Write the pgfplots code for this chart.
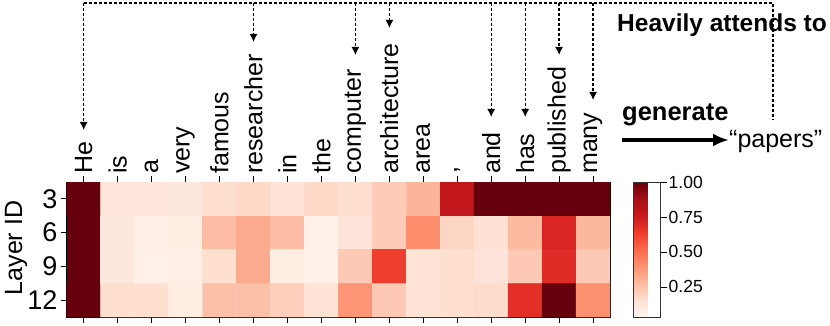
\documentclass[border=0pt]{standalone}
\usepackage{pgfplots}
\pgfplotsset{compat=1.18}
\usepackage{fontspec}
\setmainfont{Liberation Sans}
\usetikzlibrary{arrows.meta}
\pgfplotsset{colormap={reds}{rgb255=(255,245,240) rgb255=(254,224,210) rgb255=(252,187,161) rgb255=(252,146,114) rgb255=(251,106,74) rgb255=(239,59,44) rgb255=(203,24,29) rgb255=(165,15,21) rgb255=(103,0,13)}}
\begin{document}
\begin{tikzpicture}
\path[use as bounding box] (0,0) rectangle (830pt,-326pt);
\begin{axis}[
  at={(66.7pt,-317pt)}, anchor=south west,
  scale only axis, width=543.3pt, height=135pt,
  xmin=-0.5, xmax=15.5, ymin=-0.5, ymax=3.5, y dir=reverse,
  colormap name=reds, point meta min=0.035, point meta max=1,
  xtick={0,...,15},
  xticklabels={He,is,a,very,famous,researcher,in,the,computer,architecture,area,{,},and,has,published,many},
  xticklabel pos=upper, xtick pos=both,
  xticklabel style={rotate=90, anchor=west, inner sep=2pt, font=\fontsize{25}{30}\selectfont},
  ytick={0,1,2,3}, yticklabels={3,6,9,12}, ytick pos=left,
  yticklabel style={inner sep=3pt, font=\fontsize{27}{32}\selectfont},
  tick align=outside, major tick length=6pt,
  tick style={black, line width=0.8pt},
  axis line style={line width=1pt},
  /pgf/number format/assume math mode=true,
  colorbar,
  colorbar style={
    at={(parent axis.north east)}, anchor=north west, xshift=15pt,
    width=27pt,
    ytick={0.25,0.5,0.75,1},
    yticklabel={\pgfmathprintnumber[fixed,fixed zerofill,precision=2]{\tick}},
    yticklabel style={inner sep=2pt, font=\fontsize{17.5}{21}\selectfont},
    /pgf/number format/assume math mode=true,
    tick align=outside, major tick length=6pt, ytick pos=right,
    axis line style={line width=1pt, black!80},
    tick style={black, line width=0.8pt},
  },
]
\addplot[matrix plot*, mesh/cols=16, point meta=explicit] table[meta=v] {
x y v
0 0 1.0
1 0 0.12
2 0 0.12
3 0 0.11
4 0 0.16
5 0 0.18
6 0 0.14
7 0 0.18
8 0 0.16
9 0 0.22
10 0 0.295
11 0 0.79
12 0 1.0
13 0 1.0
14 0 1.0
15 0 1.0
0 1 1.0
1 1 0.11
2 1 0.074
3 1 0.083
4 1 0.27
5 1 0.325
6 1 0.27
7 1 0.064
8 1 0.13
9 1 0.22
10 1 0.41
11 1 0.19
12 1 0.15
13 1 0.28
14 1 0.71
15 1 0.285
0 2 1.0
1 2 0.11
2 2 0.064
3 2 0.074
4 2 0.16
5 2 0.325
6 2 0.083
7 2 0.064
8 2 0.23
9 2 0.63
10 2 0.14
11 2 0.16
12 2 0.13
13 2 0.23
14 2 0.69
15 2 0.23
0 3 1.0
1 3 0.16
2 3 0.16
3 3 0.083
4 3 0.26
5 3 0.26
6 3 0.21
7 3 0.14
8 3 0.39
9 3 0.23
10 3 0.14
11 3 0.16
12 3 0.17
13 3 0.68
14 3 1.0
15 3 0.40
};
\end{axis}
\begin{scope}[x=1pt,y=-1pt]
\node[rotate=90, font=\fontsize{25}{30}\selectfont] at (16,248) {Layer ID};
\draw[line width=1.3pt, dash pattern=on 3pt off 2pt] (83.7,3) -- (773,3) -- (773,120);
\foreach \xx/\yy in {83.7/130, 253.5/42, 355.4/55, 389.4/28, 491.2/117, 525.2/117, 559.1/55, 593.1/100}{
  \draw[line width=1.3pt, dash pattern=on 3pt off 2pt, -{Latex[length=8pt,width=8pt]}] (\xx,3) -- (\xx,\yy);
}
\node[anchor=base west, inner sep=0pt, font=\fontsize{24.5}{29}\selectfont\bfseries] at (617,32) {Heavily attends to};
\node[anchor=base west, inner sep=0pt, font=\fontsize{25.5}{30}\selectfont\bfseries] at (622,121) {generate};
\draw[line width=3.3pt, -{Latex[length=16pt,width=13pt]}] (622,140) -- (729,140);
\node[anchor=base west, inner sep=0pt, font=\fontsize{25}{30}\selectfont] at (729,148) {``papers''};
\end{scope}
\end{tikzpicture}
\end{document}
